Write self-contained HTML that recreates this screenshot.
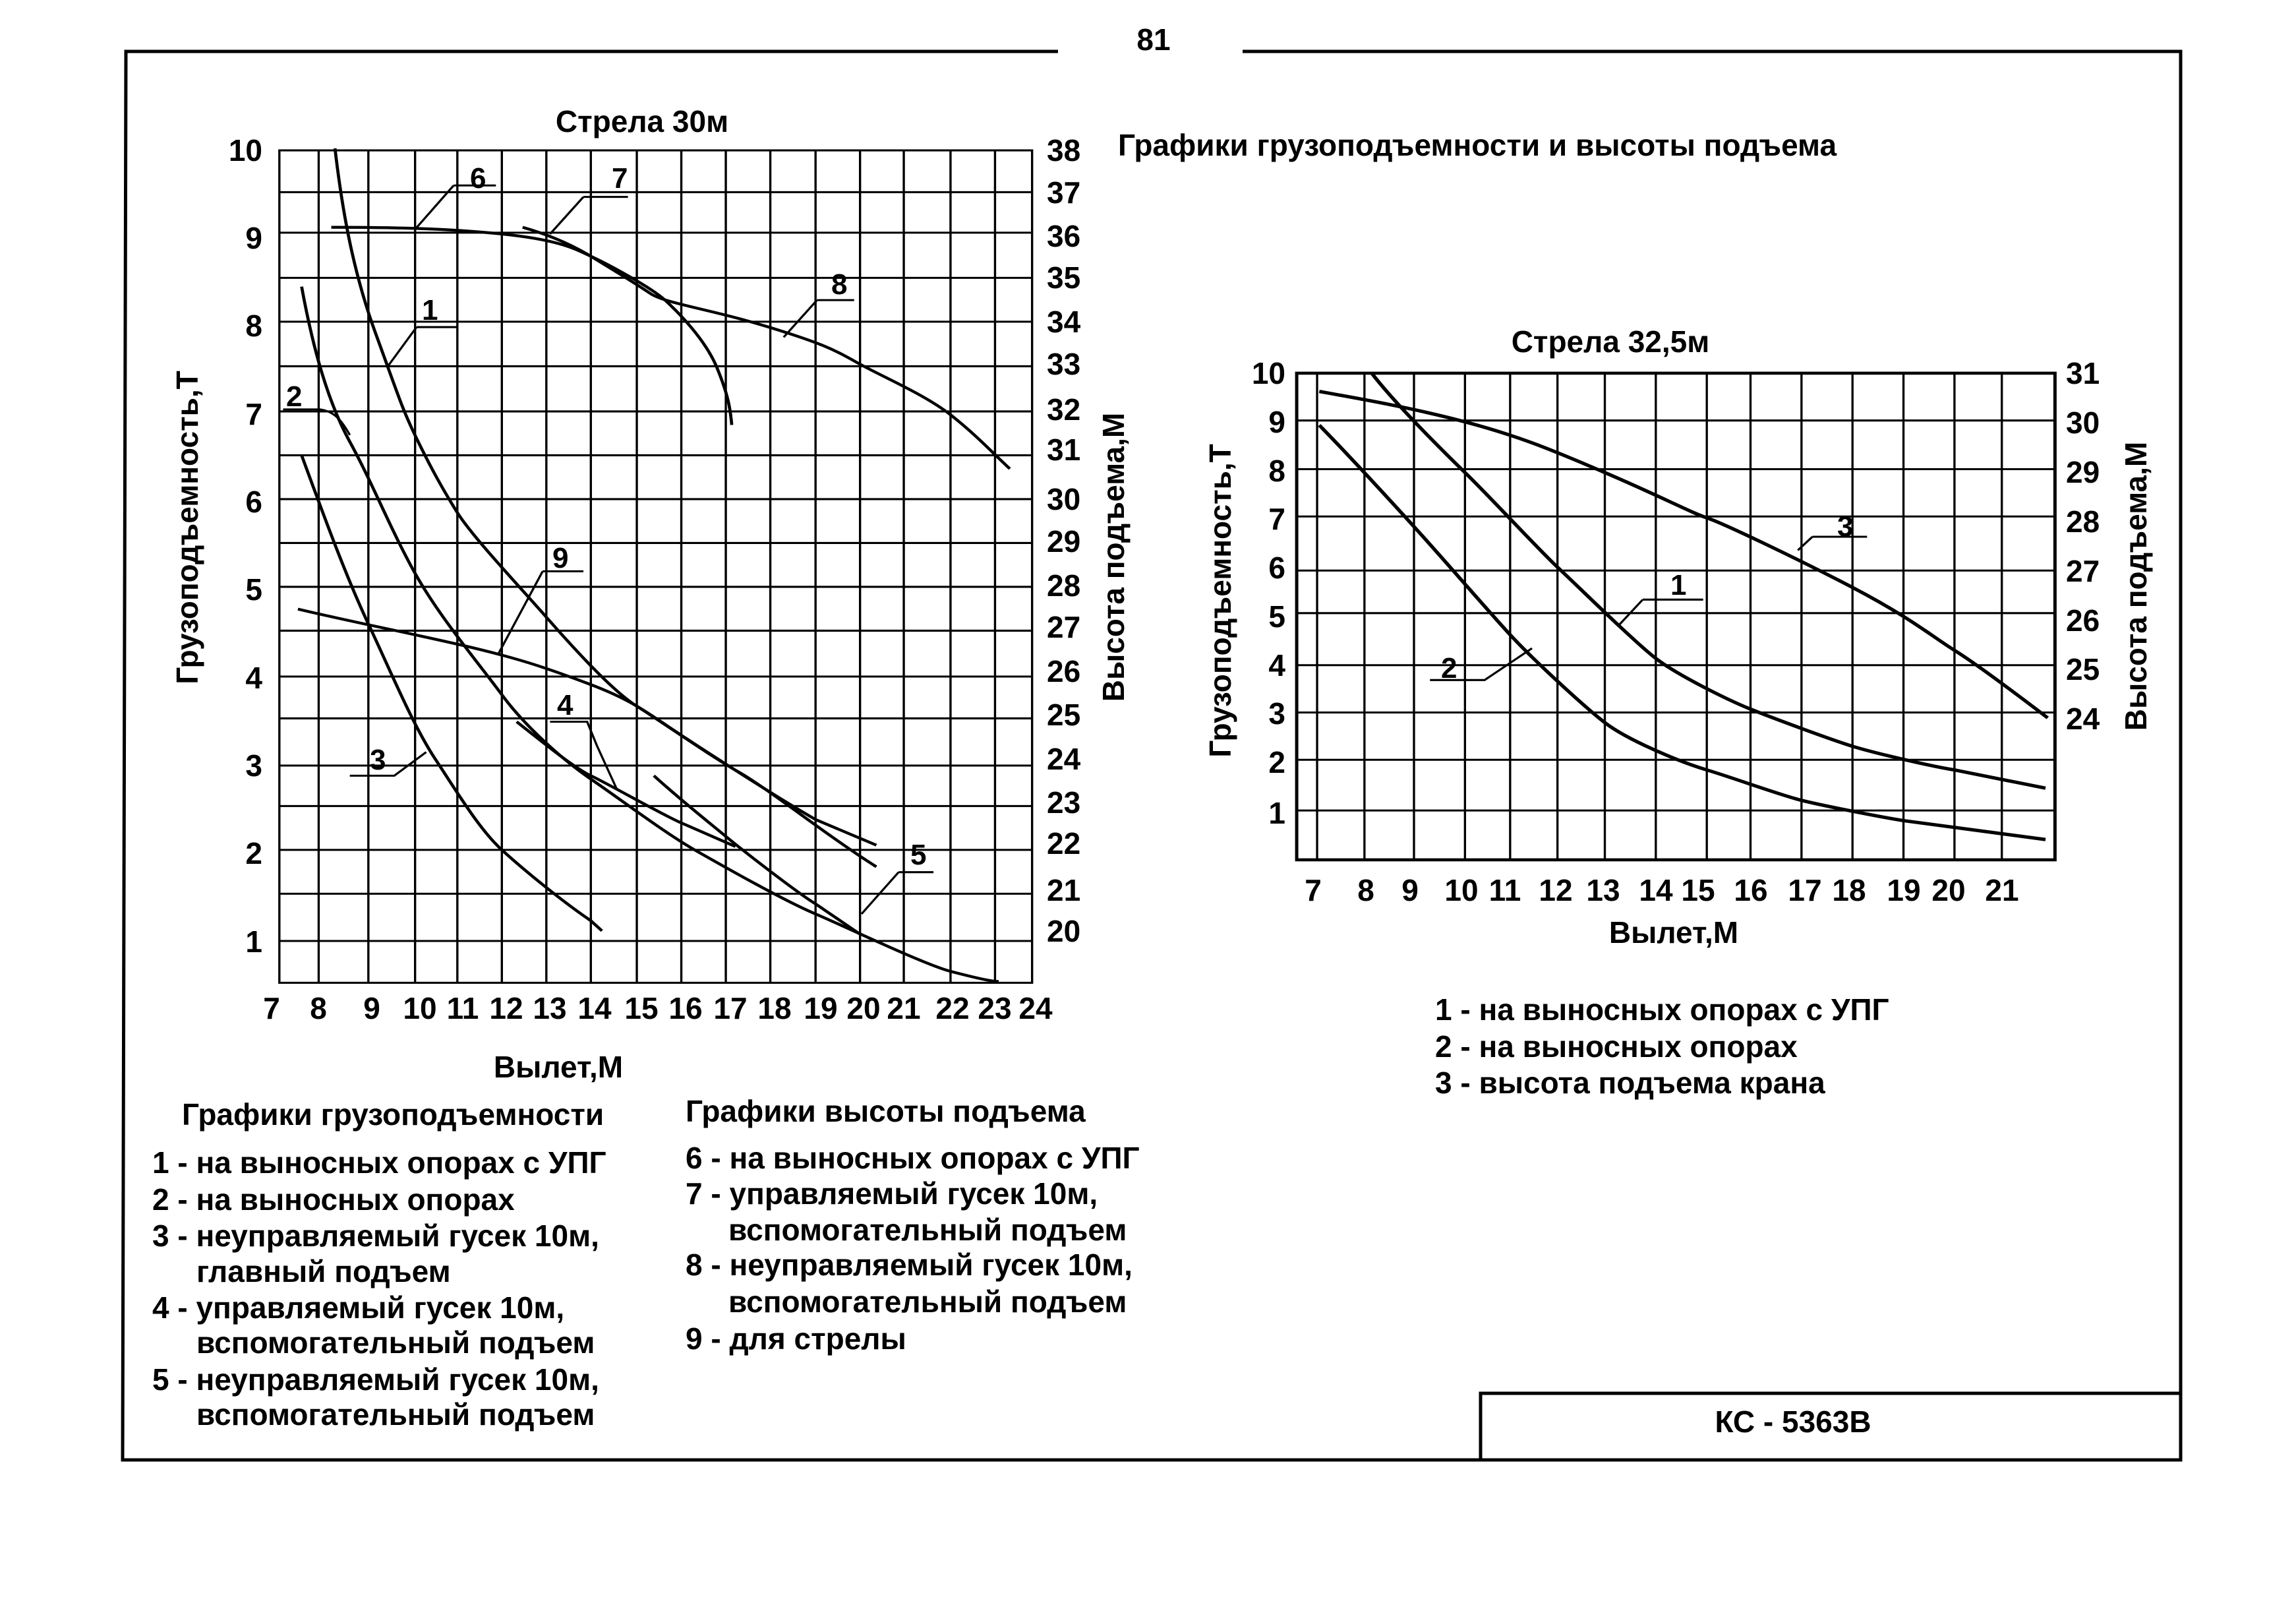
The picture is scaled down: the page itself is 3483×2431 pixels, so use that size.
<!DOCTYPE html>
<html><head><meta charset="utf-8"><style>
html,body{margin:0;padding:0;background:#fff;}
svg{display:block;}
text{font-family:"Liberation Sans",Arial,sans-serif;fill:#000;}
.t{font-size:46px;font-weight:bold;}
.b{font-size:46px;font-weight:bold;}
</style></head><body>
<svg width="3483" height="2431" viewBox="0 0 3483 2431" xmlns="http://www.w3.org/2000/svg">
<rect width="3483" height="2431" fill="#fff"/>
<g stroke="#000" stroke-width="5" fill="none">
<polyline points="1605,78 191,78 186,2214 3308,2214 3308,78 1885,78"/>
<polyline points="2246,2214 2246,2113 3308,2113"/>
</g>
<text x="1750" y="76" class="b" text-anchor="middle">81</text>

<g transform="matrix(1.125 0 0 1.023 -3.7 -5.2)" fill="none" stroke="#000">
<g stroke-width="3">
<rect x="380" y="228" width="1015" height="1234"/>
<path d="M433 228V1462M500 228V1462M563 228V1462M620 228V1462M680 228V1462M740 228V1462M800 228V1462M862 228V1462M922 228V1462M982 228V1462M1042 228V1462M1103 228V1462M1163 228V1462M1222 228V1462M1285 228V1462M1345 228V1462"/>
<path d="M380 290H1395M380 350H1395M380 417H1395M380 482H1395M380 548H1395M380 615H1395M380 680H1395M380 745H1395M380 810H1395M380 875H1395M380 940H1395M380 1008H1395M380 1070H1395M380 1140H1395M380 1200H1395M380 1265H1395M380 1330H1395M380 1400H1395"/>
</g>
<g stroke-width="4.2">
<path d="M450 342 C520 342 600 343 680 352 S780 375 800 385 S880 430 900 450 S955 510 970 550 S988 610 990 635"/>
<path d="M708 342 C740 352 770 365 800 385 S860 425 880 440 S960 463 1040 490 S1130 525 1163 545 S1250 590 1285 620 S1345 680 1365 700"/>
<path d="M455 225 C465 320 480 410 510 500 S545 610 565 655 S600 730 620 765 S700 870 740 920 S830 1030 862 1052 S960 1125 1000 1150 S1120 1245 1185 1290"/>
<path d="M410 430 C425 520 445 600 475 660 S530 790 563 855 S650 990 680 1035 S760 1130 800 1160 S900 1240 940 1265 S1060 1340 1103 1360 S1250 1435 1285 1445 S1340 1460 1350 1460"/>
<path d="M410 680 C440 770 470 860 500 930 S560 1080 590 1130 S650 1235 680 1265 S760 1340 800 1370 L815 1385"/>
<path d="M405 908 C470 925 540 940 620 960 S740 995 800 1020 S880 1065 922 1095 S1040 1180 1103 1220 L1185 1258"/>
<path d="M700 1075 C740 1110 780 1145 800 1155 S900 1215 922 1225 L995 1260"/>
<path d="M885 1155 C920 1190 960 1225 982 1245 S1080 1330 1103 1345 L1163 1390"/>
</g>
<g stroke-width="3">
<path d="M615 280H672M615 280L563 345"/>
<path d="M790 297H850M790 297L745 352"/>
<path d="M1105 450H1155M1105 450L1060 505"/>
<path d="M565 490H620M565 490L525 550"/>
<path d="M385 612H435C455 615 465 630 475 650"/>
<path d="M735 852H790M735 852L675 975"/>
<path d="M475 1155H535L578 1120"/>
<path d="M745 1075H795L808 1110L835 1175"/>
<path d="M1215 1298H1262M1215 1298L1165 1360"/>
</g>
</g>
<g class="t" style="font-size:44px">
<text x="713" y="285">6</text>
<text x="928" y="285">7</text>
<text x="1261" y="446">8</text>
<text x="640" y="485">1</text>
<text x="434" y="616">2</text>
<text x="838" y="861">9</text>
<text x="561" y="1167">3</text>
<text x="845" y="1084">4</text>
<text x="1381" y="1311">5</text>
</g>
<text x="974" y="200" class="b" text-anchor="middle">Стрела 30м</text>
<g class="t" text-anchor="end">
<text x="398" y="244">10</text><text x="398" y="377">9</text><text x="398" y="510">8</text>
<text x="398" y="644">7</text><text x="398" y="777">6</text><text x="398" y="910">5</text>
<text x="398" y="1044">4</text><text x="398" y="1177">3</text><text x="398" y="1310">2</text>
<text x="398" y="1444">1</text>
</g>
<g class="t">
<text x="1588" y="244">38</text><text x="1588" y="308">37</text><text x="1588" y="374">36</text>
<text x="1588" y="437">35</text><text x="1588" y="504">34</text><text x="1588" y="568">33</text>
<text x="1588" y="637">32</text><text x="1588" y="698">31</text><text x="1588" y="773">30</text>
<text x="1588" y="837">29</text><text x="1588" y="904">28</text><text x="1588" y="967">27</text>
<text x="1588" y="1034">26</text><text x="1588" y="1100">25</text><text x="1588" y="1167">24</text>
<text x="1588" y="1233">23</text><text x="1588" y="1295">22</text><text x="1588" y="1366">21</text>
<text x="1588" y="1428">20</text>
</g>
<g class="t" text-anchor="middle">
<text x="412" y="1545">7</text><text x="483" y="1545">8</text><text x="564" y="1545">9</text>
<text x="637" y="1545">10</text><text x="702" y="1545">11</text><text x="768" y="1545">12</text>
<text x="834" y="1545">13</text><text x="902" y="1545">14</text><text x="973" y="1545">15</text>
<text x="1040" y="1545">16</text><text x="1108" y="1545">17</text><text x="1175" y="1545">18</text>
<text x="1245" y="1545">19</text><text x="1310" y="1545">20</text><text x="1371" y="1545">21</text>
<text x="1445" y="1545">22</text><text x="1509" y="1545">23</text><text x="1571" y="1545">24</text>
</g>
<text x="847" y="1634" class="b" text-anchor="middle">Вылет,М</text>
<text class="t" text-anchor="middle" transform="translate(300,800) rotate(-90)">Грузоподъемность,Т</text>
<text class="t" text-anchor="middle" transform="translate(1705,845) rotate(-90)">Высота подъема,М</text>

<text x="1696" y="236" class="t">Графики грузоподъемности и высоты подъема</text>

<g class="t">
<text x="276" y="1706">Графики грузоподъемности</text>
<text x="231" y="1779">1 - на выносных опорах с УПГ</text>
<text x="231" y="1835">2 - на выносных опорах</text>
<text x="231" y="1890">3 - неуправляемый гусек 10м,</text>
<text x="298" y="1944">главный подъем</text>
<text x="231" y="1999">4 - управляемый гусек 10м,</text>
<text x="298" y="2052">вспомогательный подъем</text>
<text x="231" y="2108">5 - неуправляемый гусек 10м,</text>
<text x="298" y="2161">вспомогательный подъем</text>
<text x="1040" y="1701">Графики высоты подъема</text>
<text x="1040" y="1772">6 - на выносных опорах с УПГ</text>
<text x="1040" y="1826">7 - управляемый гусек 10м,</text>
<text x="1105" y="1881">вспомогательный подъем</text>
<text x="1040" y="1934">8 - неуправляемый гусек 10м,</text>
<text x="1105" y="1990">вспомогательный подъем</text>
<text x="1040" y="2046">9 - для стрелы</text>
</g>

<g transform="matrix(1.105 0 0 1.025 1749.4 -6)" fill="none" stroke="#000">
<g stroke-width="3">
<path d="M225 558V1278M290 558V1278M358 558V1278M428 558V1278M490 558V1278M555 558V1278M620 558V1278M690 558V1278M760 558V1278M820 558V1278M890 558V1278M960 558V1278M1030 558V1278M1100 558V1278M1165 558V1278"/>
<path d="M197 628H1238M197 700H1238M197 770H1238M197 850H1238M197 913H1238M197 990H1238M197 1060H1238M197 1130H1238M197 1205H1238"/>
</g>
<rect x="197" y="558" width="1041" height="720" stroke-width="4.5"/>
<g stroke-width="5">
<path d="M228 585 C290 597 358 610 428 630 S540 668 620 705 S740 765 760 772 S880 830 960 875 S1070 948 1100 968 S1200 1045 1228 1068"/>
<path d="M300 558 C330 600 390 665 428 705 S530 820 555 845 S660 955 690 980 S790 1042 820 1055 S930 1100 960 1110 S1070 1140 1100 1145 L1225 1172"/>
<path d="M228 635 C260 670 320 740 358 785 S460 910 490 945 S590 1050 620 1075 S720 1132 760 1145 S860 1182 890 1190 S1000 1215 1030 1220 L1225 1248"/>
</g>
<g stroke-width="3">
<path d="M905 800H980M905 800L885 820"/>
<path d="M672 893H755M672 893L640 930"/>
<path d="M380 1012H455L520 965"/>
</g>
</g>
<g class="t" style="font-size:44px">
<text x="2787" y="813">3</text>
<text x="2534" y="902">1</text>
<text x="2186" y="1028">2</text>
</g>
<text x="2443" y="534" class="b" text-anchor="middle">Стрела 32,5м</text>
<g class="t" text-anchor="end">
<text x="1950" y="582">10</text><text x="1950" y="656">9</text><text x="1950" y="730">8</text>
<text x="1950" y="803">7</text><text x="1950" y="877">6</text><text x="1950" y="951">5</text>
<text x="1950" y="1025">4</text><text x="1950" y="1098">3</text><text x="1950" y="1172">2</text>
<text x="1950" y="1249">1</text>
</g>
<g class="t">
<text x="3134" y="582">31</text><text x="3134" y="657">30</text><text x="3134" y="732">29</text>
<text x="3134" y="807">28</text><text x="3134" y="882">27</text><text x="3134" y="957">26</text>
<text x="3134" y="1031">25</text><text x="3134" y="1106">24</text>
</g>
<g class="t" text-anchor="middle">
<text x="1992" y="1366">7</text><text x="2072" y="1366">8</text><text x="2139" y="1366">9</text>
<text x="2217" y="1366">10</text><text x="2283" y="1366">11</text><text x="2360" y="1366">12</text>
<text x="2432" y="1366">13</text><text x="2512" y="1366">14</text><text x="2576" y="1366">15</text>
<text x="2656" y="1366">16</text><text x="2738" y="1366">17</text><text x="2805" y="1366">18</text>
<text x="2888" y="1366">19</text><text x="2956" y="1366">20</text><text x="3037" y="1366">21</text>
</g>
<text x="2539" y="1430" class="b" text-anchor="middle">Вылет,М</text>
<text class="t" text-anchor="middle" transform="translate(1867,911) rotate(-90)">Грузоподъемность,Т</text>
<text class="t" text-anchor="middle" transform="translate(3256,889) rotate(-90)">Высота подъема,М</text>
<g class="t">
<text x="2177" y="1547">1 - на выносных  опорах с УПГ</text>
<text x="2177" y="1603">2 - на выносных опорах</text>
<text x="2177" y="1658">3 - высота подъема крана</text>
</g>
<text x="2720" y="2172" class="b" text-anchor="middle">КС - 5363В</text>
</svg>
</body></html>
